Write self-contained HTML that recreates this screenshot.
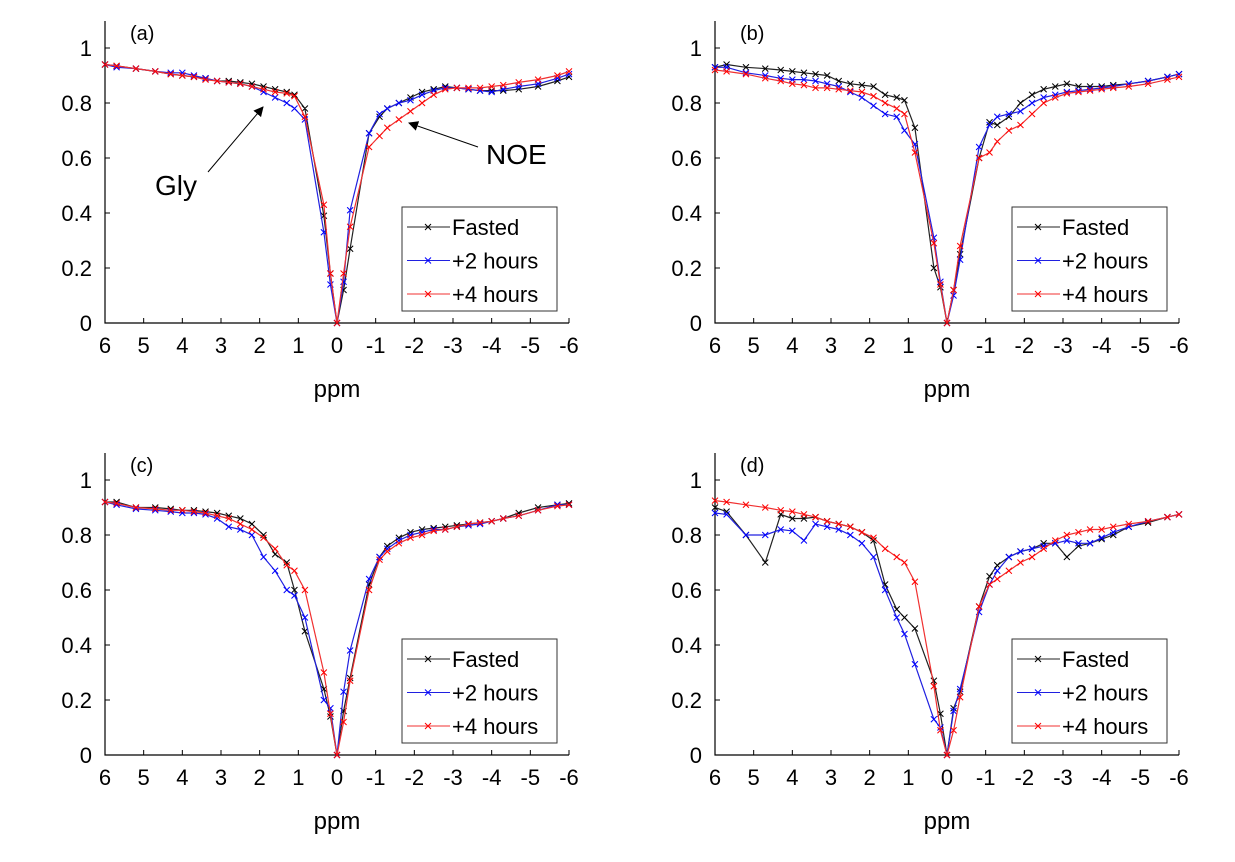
<!DOCTYPE html>
<html><head><meta charset="utf-8"><style>
body{margin:0;background:#fff;}
svg{display:block;font-family:"Liberation Sans",sans-serif;}
</style></head><body>
<svg id="fig" width="1235" height="862" viewBox="0 0 1235 862"></svg>
<script>
const ppm=[6,5.7,5.2,4.7,4.3,4.0,3.7,3.4,3.1,2.8,2.5,2.2,1.9,1.6,1.3,1.1,0.83,0.34,0.17,0,-0.17,-0.34,-0.83,-1.1,-1.3,-1.6,-1.9,-2.2,-2.5,-2.8,-3.1,-3.4,-3.7,-4.0,-4.3,-4.7,-5.2,-5.7,-6];
const seriesNames=["Fasted","+2 hours","+4 hours"];
const xTicks=[6,5,4,3,2,1,0,-1,-2,-3,-4,-5,-6];
const yTicks=[0,0.2,0.4,0.6,0.8,1];
const yTickLabels=["0","0.2","0.4","0.6","0.8","1"];
const panelLabels=["(a)","(b)","(c)","(d)"];
const aFasted=[.94,.935,.925,.915,.905,.9,.895,.89,.88,.88,.875,.87,.86,.85,.84,.83,.78,.39,.18,0,.12,.27,.69,.75,.78,.8,.82,.84,.85,.86,.855,.85,.845,.845,.845,.85,.86,.88,.895];
const a2h=[.94,.93,.925,.915,.91,.91,.9,.89,.88,.875,.87,.86,.84,.82,.8,.78,.74,.33,.14,0,.15,.41,.69,.76,.78,.8,.81,.83,.845,.855,.855,.85,.845,.84,.85,.86,.87,.89,.905];
const a4h=[.94,.935,.925,.915,.905,.9,.895,.885,.88,.875,.87,.86,.85,.84,.835,.825,.75,.43,.18,0,.18,.35,.64,.68,.71,.74,.77,.8,.83,.85,.855,.855,.855,.86,.865,.875,.885,.9,.915];
const bFasted=[.93,.94,.93,.925,.92,.915,.91,.905,.9,.88,.87,.865,.86,.83,.82,.81,.71,.2,.13,0,.12,.25,.6,.73,.72,.75,.8,.83,.85,.86,.87,.86,.86,.86,.865,.87,.88,.895,.905];
const b2h=[.93,.93,.91,.9,.89,.885,.885,.88,.87,.86,.84,.82,.79,.76,.75,.7,.65,.31,.15,0,.1,.23,.64,.72,.75,.76,.77,.8,.82,.83,.84,.845,.85,.855,.86,.87,.88,.895,.905];
const b4h=[.92,.915,.905,.89,.88,.87,.865,.855,.855,.85,.845,.84,.825,.8,.78,.76,.62,.29,.14,0,.12,.28,.6,.62,.66,.7,.72,.76,.8,.82,.835,.84,.845,.85,.855,.86,.87,.885,.895];
const cFasted=[.92,.92,.9,.9,.895,.89,.89,.885,.88,.87,.86,.84,.8,.73,.7,.6,.45,.24,.14,0,.16,.28,.62,.72,.76,.79,.81,.82,.825,.83,.835,.84,.845,.85,.86,.88,.9,.91,.915];
const c2h=[.92,.91,.895,.89,.885,.88,.88,.875,.86,.83,.82,.8,.72,.67,.6,.58,.5,.2,.17,0,.23,.38,.64,.72,.75,.78,.8,.81,.82,.82,.83,.835,.84,.85,.86,.87,.89,.91,.91];
const c4h=[.92,.915,.9,.895,.89,.89,.885,.88,.87,.86,.84,.82,.79,.75,.69,.67,.6,.3,.15,0,.12,.27,.6,.71,.74,.77,.79,.8,.815,.82,.83,.84,.845,.85,.86,.87,.89,.905,.91];
const dFasted=[.9,.885,.8,.7,.875,.86,.86,.865,.85,.84,.83,.81,.78,.62,.53,.5,.46,.27,.15,0,.17,.23,.54,.65,.69,.72,.74,.75,.77,.77,.72,.76,.77,.785,.8,.83,.845,.865,.875];
const d2h=[.88,.875,.8,.8,.82,.815,.78,.84,.83,.82,.8,.77,.72,.6,.5,.44,.33,.13,.1,0,.16,.24,.52,.62,.67,.72,.74,.75,.76,.77,.78,.77,.77,.79,.81,.83,.85,.865,.875];
const d4h=[.925,.92,.91,.9,.89,.885,.875,.865,.85,.84,.83,.81,.79,.75,.72,.7,.63,.25,.09,0,.09,.21,.54,.62,.64,.67,.7,.72,.75,.78,.8,.81,.82,.82,.83,.84,.85,.865,.875];
const panelData=[[aFasted,a2h,a4h],[bFasted,b2h,b4h],[cFasted,c2h,c4h],[dFasted,d2h,d4h]];
const colors=["#000000","#0000ff","#ff0000"];
const lineColors=["#222","#2020e0","#f03030"];
const NS="http://www.w3.org/2000/svg";
const svg=document.getElementById('fig');
function mk(tag,attrs,parent){const e=document.createElementNS(NS,tag);for(const k in attrs)e.setAttribute(k,attrs[k]);(parent||svg).appendChild(e);return e;}
const layout=[{x0:105,x1:569,y0:323},{x0:715,x1:1179,y0:323},{x0:105,x1:569,y0:755},{x0:715,x1:1179,y0:755}];
layout.forEach((L,p)=>{
  const g=mk('g',{});
  
  
  const sx=v=>L.x0+(6-v)*(L.x1-L.x0)/12;
  const sy=v=>L.y0-v*275;
  const top=L.y0-302;
  const ax=mk('path',{d:`M${L.x0},${top}V${L.y0}H${L.x1}`,stroke:'#000','stroke-width':1.2,fill:'none'},g);
  
  
  xTicks.forEach(t=>{
    const x=sx(t);
    mk('line',{x1:x,x2:x,y1:L.y0,y2:L.y0-5,stroke:'#000'},g);
    const tx=mk('text',{x:x,y:L.y0+30,'font-size':22,'text-anchor':'middle'},g);
    tx.textContent=String(t);
    
    
  });
  yTicks.forEach((t,i)=>{
    const y=sy(t);
    mk('line',{x1:L.x0,x2:L.x0+5,y1:y,y2:y,stroke:'#000'},g);
    const ty=mk('text',{x:L.x0-13,y:y+8,'font-size':22,'text-anchor':'end'},g);
    ty.textContent=yTickLabels[i];
    
    
  });
  const xl=mk('text',{x:(L.x0+L.x1)/2,y:L.y0+74,'font-size':24,'text-anchor':'middle'},g);
  xl.textContent='ppm';
  
  
  const pl=mk('text',{x:L.x0+25,y:top+19,'font-size':20},g);
  pl.textContent=panelLabels[p];
  
  
  panelData[p].forEach((vals,s)=>{
    const pts=ppm.map((v,i)=>sx(v).toFixed(1)+','+sy(vals[i]).toFixed(1)).join(' ');
    const ln=mk('polyline',{points:pts,fill:'none',stroke:lineColors[s],'stroke-width':1.2},g);
    
    
    let d='';
    ppm.forEach((v,i)=>{const x=sx(v),y=sy(vals[i]);d+=`M${x-3},${y-3}L${x+3},${y+3}M${x-3},${y+3}L${x+3},${y-3}`;});
    const mkr=mk('path',{d:d,stroke:colors[s],'stroke-width':1,fill:'none'},g);
    
    
  });
  // legend
  const lx=L.x0+297, ly=L.y0-116;
  const lg=mk('g',{},g);
  
  
  mk('rect',{x:lx,y:ly,width:155,height:104,fill:'#fff',stroke:'#333','stroke-width':1},lg);
  seriesNames.forEach((n,s)=>{
    const y=ly+20+s*33.5;
    mk('line',{x1:lx+5,x2:lx+48,y1:y,y2:y,stroke:lineColors[s]},lg);
    mk('path',{d:`M${lx+23},${y-3}L${lx+29},${y+3}M${lx+23},${y+3}L${lx+29},${y-3}`,stroke:colors[s]},lg);
    const t=mk('text',{x:lx+50,y:y+8,'font-size':22},lg);
    t.textContent=n;
    
    
  });
});
// annotations on panel (a)
const ag=mk('g',{});


mk('defs',{},ag).innerHTML='<marker id="ah" markerWidth="10" markerHeight="10" refX="9" refY="5" orient="auto"><path d="M0,0L10,5L0,10z" fill="#000"/></marker>';
mk('line',{x1:208,y1:172,x2:263,y2:107,stroke:'#000','marker-end':'url(#ah)'},ag);
mk('line',{x1:478,y1:147,x2:409,y2:123,stroke:'#000','marker-end':'url(#ah)'},ag);
const gt=mk('text',{x:155,y:195,'font-size':28},ag);gt.textContent='Gly';


const nt=mk('text',{x:486,y:164,'font-size':28},ag);nt.textContent='NOE';


</script>
</body></html>
